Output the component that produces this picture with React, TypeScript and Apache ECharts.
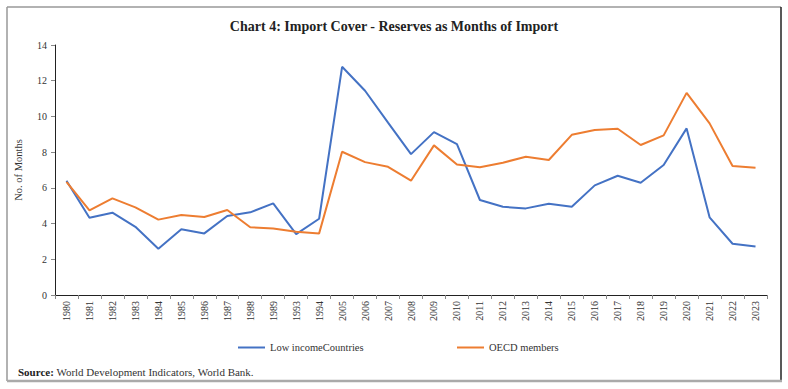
import React, { useEffect, useRef } from "react";
import * as echarts from "echarts";

const years = [
  "1980", "1981", "1982", "1983", "1984", "1985", "1986", "1987", "1988", "1989",
  "1993", "1994", "2005", "2006", "2007", "2008", "2009", "2010", "2011", "2012",
  "2013", "2014", "2015", "2016", "2017", "2018", "2019", "2020", "2021", "2022", "2023",
];

const lowIncome = [
  6.4, 4.33, 4.61, 3.82, 2.59, 3.68, 3.45, 4.42, 4.63, 5.13,
  3.41, 4.27, 12.78, 11.44, 9.65, 7.89, 9.12, 8.45, 5.32, 4.94,
  4.85, 5.11, 4.94, 6.14, 6.68, 6.29, 7.28, 9.33, 4.35, 2.87, 2.71,
];

const oecd = [
  6.34, 4.74, 5.41, 4.91, 4.22, 4.48, 4.37, 4.76, 3.79, 3.73,
  3.54, 3.45, 8.02, 7.44, 7.18, 6.4, 8.38, 7.31, 7.15, 7.41,
  7.74, 7.56, 8.97, 9.24, 9.31, 8.4, 8.94, 11.32, 9.61, 7.22, 7.13,
];

const seriesNames = ["Low incomeCountries", "OECD members"];
const yTicks = { min: 0, max: 14, interval: 2 };

const FONT = "'Liberation Serif', 'DejaVu Serif', serif";

export default function App() {
  const ref = useRef<HTMLDivElement>(null);
  useEffect(() => {
    if (!ref.current) return;
    const chart = echarts.init(ref.current, undefined, { renderer: "svg" });
    chart.setOption({
      animation: false,
      backgroundColor: "#ffffff",
      title: {
        text: "Chart 4: Import Cover - Reserves as Months of Import",
        left: "center",
        top: 14,
        textStyle: { fontFamily: FONT, fontSize: 14, fontWeight: "bold", color: "#222" },
      },
      grid: { left: 55, right: 21, top: 45, bottom: 94, containLabel: false },
      legend: [
        {
          data: [seriesNames[0]],
          left: 233,
          top: 337,
          itemWidth: 27,
          itemHeight: 2,
          icon: "rect",
          textStyle: { fontFamily: FONT, fontSize: 10.5, color: "#333" },
        },
        {
          data: [seriesNames[1]],
          left: 452,
          top: 337,
          itemWidth: 27,
          itemHeight: 2,
          icon: "rect",
          textStyle: { fontFamily: FONT, fontSize: 10.5, color: "#333" },
        },
      ],
      xAxis: {
        type: "category",
        data: years,
        boundaryGap: true,
        axisLine: { lineStyle: { color: "#222", width: 1 } },
        axisTick: { show: true, alignWithLabel: false, length: 4, lineStyle: { color: "#888" } },
        axisLabel: {
          interval: 0,
          rotate: 90,
          fontFamily: FONT,
          fontSize: 10,
          color: "#333",
          margin: 6,
        },
      },
      yAxis: {
        type: "value",
        min: yTicks.min,
        max: yTicks.max,
        interval: yTicks.interval,
        name: "No. of Months",
        nameLocation: "middle",
        nameGap: 31,
        nameTextStyle: { fontFamily: FONT, fontSize: 10.5, color: "#333" },
        splitLine: { show: false },
        axisLine: { show: true, lineStyle: { color: "#222", width: 1 } },
        axisTick: { show: true, length: 4, lineStyle: { color: "#888" } },
        axisLabel: { fontFamily: FONT, fontSize: 10, color: "#333", margin: 8 },
      },
      series: [
        {
          name: seriesNames[0],
          type: "line",
          data: lowIncome,
          symbol: "none",
          lineStyle: { color: "#4472C4", width: 2 },
          itemStyle: { color: "#4472C4" },
        },
        {
          name: seriesNames[1],
          type: "line",
          data: oecd,
          symbol: "none",
          lineStyle: { color: "#ED7D31", width: 2 },
          itemStyle: { color: "#ED7D31" },
        },
      ],
      graphic: [
        { type: "line", shape: { x1: 7, y1: 7, x2: 781, y2: 7 }, style: { stroke: "#999", lineWidth: 1.5 } },
        { type: "line", shape: { x1: 7, y1: 7, x2: 7, y2: 381 }, style: { stroke: "#999", lineWidth: 1.5 } },
        { type: "line", shape: { x1: 781, y1: 7, x2: 781, y2: 381 }, style: { stroke: "#222", lineWidth: 1.5 } },
        { type: "line", shape: { x1: 7, y1: 381, x2: 782, y2: 381 }, style: { stroke: "#aaa", lineWidth: 2.5 } },
        {
          type: "text",
          left: 18,
          top: 366,
          style: {
            text: "{b|Source:} World Development Indicators, World Bank.",
            fontFamily: FONT,
            fontSize: 11,
            fill: "#333",
            rich: {
              b: { fontFamily: FONT, fontSize: 11, fontWeight: "bold", fill: "#222" },
            },
          },
        },
      ],
    });
    return () => chart.dispose();
  }, []);
  return (
    <div
      ref={ref}
      style={{ position: "fixed", left: 0, top: 0, width: 788, height: 389, background: "#fff" }}
    />
  );
}
